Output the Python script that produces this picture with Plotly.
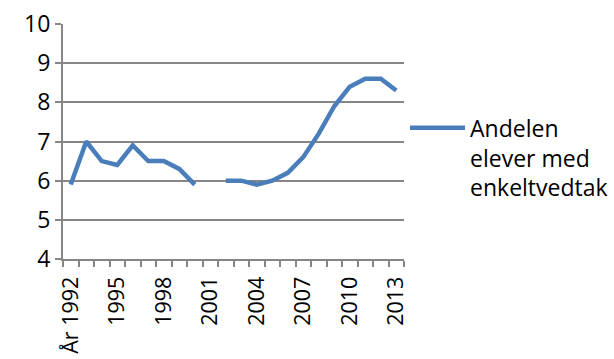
import plotly.graph_objects as go

years = list(range(1992, 2014))
values = [5.9, 7.0, 6.5, 6.4, 6.9, 6.5, 6.5, 6.3, 5.9, None, 6.0, 6.0, 5.9, 6.0, 6.2, 6.6,
          7.2, 7.9, 8.4, 8.6, 8.6, 8.3]
tick_labels = ["År 1992", "1995", "1998", "2001", "2004", "2007", "2010", "2013"]
series_name = "Andelen<br>elever med<br>enkeltvedtak"

xpos = list(range(len(years)))
label_pos = [i for i, y in enumerate(years) if (y - 1992) % 3 == 0]

grid = "#868686"
fam = "Open Sans"
yfont = dict(family=fam, size=23, color="#000000")
xfont = dict(family=fam, size=21.5, color="#000000")

fig = go.Figure()
fig.add_trace(go.Scatter(x=xpos, y=values, mode="lines", name=series_name,
                         line=dict(color="#4A7EBB", width=4.5), connectgaps=False,
                         showlegend=True))

fig.update_layout(
    width=614, height=359,
    margin=dict(l=63, r=210, t=24, b=100, autoexpand=False),
    paper_bgcolor="white", plot_bgcolor="white",
    font=yfont,
    showlegend=True,
    legend=dict(x=1.003, y=0.65, xanchor="left", yanchor="top", valign="top",
                font=dict(family=fam, size=23, color="#000000"), bgcolor="rgba(0,0,0,0)",
                itemwidth=55, tracegroupgap=0),
)
fig.update_xaxes(
    range=[-0.5, len(years) - 0.5],
    tickmode="array", tickvals=label_pos, ticktext=tick_labels,
    tickangle=-90, ticks="", showgrid=False, zeroline=False,
    showline=True, linecolor=grid, linewidth=2,
    minor=dict(ticks="outside", tick0=-0.5, dtick=1, ticklen=6, tickcolor=grid, tickwidth=2, showgrid=False),
    tickfont=xfont, ticklabelstandoff=7,
)
fig.update_yaxes(
    range=[4, 10], dtick=1, tick0=4,
    showgrid=True, gridcolor=grid, gridwidth=2, zeroline=False,
    showline=True, linecolor=grid, linewidth=2,
    ticks="outside", ticklen=6, tickcolor=grid, tickwidth=2,
    tickfont=yfont,
)
fig.write_html("out.html")
